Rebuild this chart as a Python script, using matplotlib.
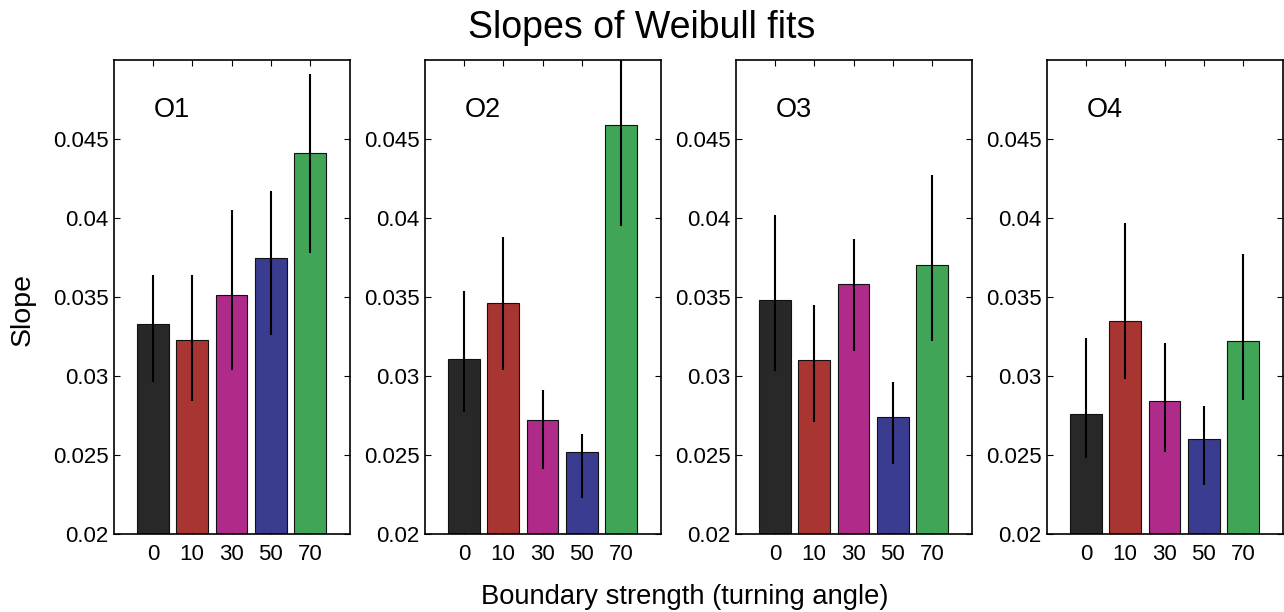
import matplotlib
matplotlib.use("Agg")
import matplotlib.pyplot as plt
import numpy as np

plt.rcParams['font.family'] = ['Liberation Sans', 'DejaVu Sans']

categories = ["0", "10", "30", "50", "70"]
panel_names = ["O1", "O2", "O3", "O4"]
bar_colors = ["#282828", "#a83532", "#b02a8a", "#3a3c8f", "#41a557"]

o1_vals = [0.0333, 0.0323, 0.0351, 0.0375, 0.0441]
o1_low = [0.0296, 0.0284, 0.0304, 0.0326, 0.0378]
o1_high = [0.0364, 0.0364, 0.0405, 0.0417, 0.0491]

o2_vals = [0.0311, 0.0346, 0.0272, 0.0252, 0.0459]
o2_low = [0.0277, 0.0304, 0.0241, 0.0223, 0.0395]
o2_high = [0.0354, 0.0388, 0.0291, 0.0263, 0.0522]

o3_vals = [0.0348, 0.0310, 0.0358, 0.0274, 0.0370]
o3_low = [0.0303, 0.0271, 0.0316, 0.0244, 0.0322]
o3_high = [0.0402, 0.0345, 0.0387, 0.0296, 0.0427]

o4_vals = [0.0276, 0.0335, 0.0284, 0.0260, 0.0322]
o4_low = [0.0248, 0.0298, 0.0252, 0.0231, 0.0285]
o4_high = [0.0324, 0.0397, 0.0321, 0.0281, 0.0377]

yticks = [0.02, 0.025, 0.03, 0.035, 0.04, 0.045]
ytick_labels = ["0.02", "0.025", "0.03", "0.035", "0.04", "0.045"]

panels = [
    (o1_vals, o1_low, o1_high),
    (o2_vals, o2_low, o2_high),
    (o3_vals, o3_low, o3_high),
    (o4_vals, o4_low, o4_high),
]

W, H = 1284, 612
fig = plt.figure(figsize=(W / 100, H / 100), dpi=100)

lefts_px = [113.5, 424.5, 735.5, 1046.5]
ax_w_px = 236
top_px, bot_px = 60, 534

x = np.arange(1, len(categories) + 1)
for i, (vals, low, high) in enumerate(panels):
    ax = fig.add_axes([lefts_px[i] / W, (H - bot_px) / H, ax_w_px / W, (bot_px - top_px) / H])
    vals = np.array(vals)
    yerr = np.vstack([vals - np.array(low), np.array(high) - vals])
    ax.bar(x, vals - 0.02, bottom=0.02, width=0.8, color=bar_colors,
           edgecolor="#111111", linewidth=0.8, zorder=2)
    ax.errorbar(x, vals, yerr=yerr, fmt="none", ecolor="black", elinewidth=1.5,
                capsize=0, zorder=3)
    ax.set_xlim(0, 6)
    ax.set_ylim(0.02, 0.05)
    ax.set_xticks(x)
    ax.set_xticklabels(categories)
    ax.set_yticks(yticks)
    ax.set_yticklabels(ytick_labels)
    ax.tick_params(direction="in", top=True, right=True, length=4, width=0.8,
                   labelsize=16)
    ax.tick_params(axis="y", pad=3.5)
    ax.tick_params(axis="x", pad=7.5)
    for s in ax.spines.values():
        s.set_linewidth(1.2)
    ax.text(0.17, 0.895, panel_names[i], transform=ax.transAxes,
            fontsize=19.5, va="center", ha="left")

fig.text(23 / W, 1 - 310 / H, "Slope", rotation=90, ha="center", va="center", fontsize=20.5)
fig.text(0.5, 1 - 28 / H, "Slopes of Weibull fits", ha="center", va="center", fontsize=27)
fig.text(685 / W, 1 - 597 / H, "Boundary strength (turning angle)", ha="center", va="center", fontsize=19.7)

fig.savefig("out.png", dpi=100)
